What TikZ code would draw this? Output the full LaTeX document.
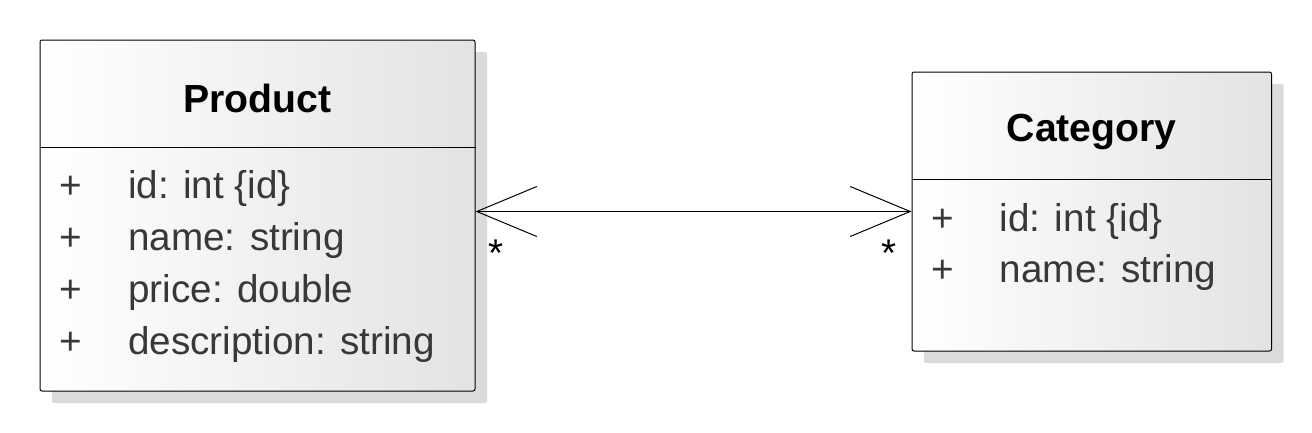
\documentclass[tikz,border=0pt]{standalone}
\usepackage{fontspec}
\setmainfont{Liberation Sans}
\usepackage{xcolor}
\usepackage{tikz}
\usetikzlibrary{arrows.meta, positioning, calc, shadows}
\definecolor{attrgray}{HTML}{383838}
\tikzset{
    classdiagram/.style={x=0.75pt, y=-0.75pt, font=\fontsize{29pt}{34pt}\selectfont},
    umlclass/.style={draw, line width=0.75pt, rounded corners=1.5pt, inner sep=0pt,
        left color=white, right color=black!11,
        drop shadow={shadow xshift=9pt, shadow yshift=-9pt, fill=black!14, opacity=1}},
    classname/.style={anchor=base, inner sep=0pt, font=\fontsize{29.4pt}{34pt}\selectfont\bfseries},
    vis/.style={anchor=base west, inner sep=0pt, text=attrgray},
    attr/.style={anchor=base west, inner sep=0pt, text=attrgray},
    assoc/.style={line width=0.75pt, {Straight Barb[length=45pt, width=37.5pt]}-{Straight Barb[length=45pt, width=37.5pt]}},
    % multiplicity labels sit below the line, next to each class
    mult/.style={inner sep=0pt},
}
\begin{document}
\begin{tikzpicture}[classdiagram]
    \useasboundingbox (0,0) rectangle (1312,432);

    \node[umlclass, minimum width=326.25pt, minimum height=263.25pt]  (product)  at (257.5,215.5) {};
    \node[umlclass, minimum width=269.6pt, minimum height=209.25pt]   (category) at (1091.75,211.5) {};

    % headers
    \node[classname] (pname) at ([shift={(0,72.5)}]product.north)  {Product};
    \node[classname] (cname) at ([shift={(0,70)}]category.north) {Category};
    \draw[line width=0.75pt] ([yshift=-81pt]product.north west)  -- ([yshift=-81pt]product.north east);
    \draw[line width=0.75pt] ([yshift=-81pt]category.north west) -- ([yshift=-81pt]category.north east);

    % Product attributes
    \node[vis]  (pv1) at ([shift={(20,159)}]product.north west) {+};
    \node[attr] (pa1) at ([shift={(88.5,159)}]product.north west) {id: int \{id\}};
    \node[vis]  (pv2) at ([shift={(20,211)}]product.north west) {+};
    \node[attr] (pa2) at ([shift={(88.5,211)}]product.north west) {name: string};
    \node[vis]  (pv3) at ([shift={(20,263)}]product.north west) {+};
    \node[attr] (pa3) at ([shift={(88.5,263)}]product.north west) {price: double};
    \node[vis]  (pv4) at ([shift={(20,315)}]product.north west) {+};
    \node[attr] (pa4) at ([shift={(88.5,315)}]product.north west) {description: string};

    % Category attributes
    \node[vis]  (cv1) at ([shift={(20,159.5)}]category.north west) {+};
    \node[attr] (ca1) at ([shift={(88,159.5)}]category.north west) {id: int \{id\}};
    \node[vis]  (cv2) at ([shift={(20,211)}]category.north west) {+};
    \node[attr] (ca2) at ([shift={(88,211)}]category.north west) {name: string};

    % association
    \draw[assoc] (product.east |- category.west) --
        node[mult, pos=0, anchor=base west, xshift=9pt, yshift=-41pt] {*}
        node[mult, pos=1, anchor=base east, xshift=-10.5pt, yshift=-41pt] {*}
        (category.west);
\end{tikzpicture}
\end{document}
